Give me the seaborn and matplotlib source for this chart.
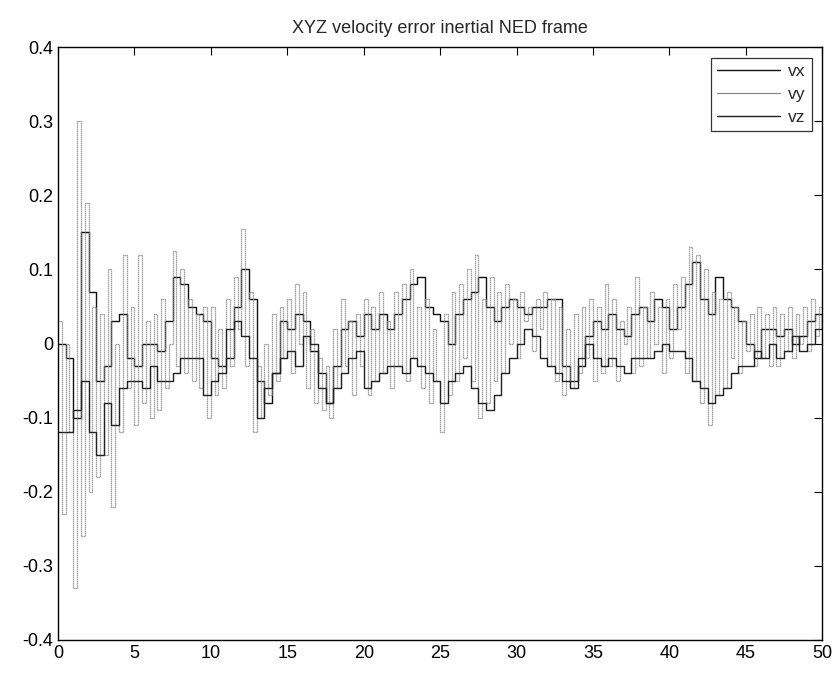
import numpy as np
import pandas as pd
import matplotlib
matplotlib.use("Agg")
import matplotlib.pyplot as plt
import seaborn as sns

# time grids
t_coarse = np.arange(0, 50.01, 0.5)
t_fine = np.arange(0, 50.01, 0.25)

vx = [0.0, -0.02, -0.10, 0.15, 0.07, -0.05, -0.03, 0.03, 0.04, -0.02,
      -0.03, 0.0, 0.0, -0.01, 0.03, 0.09, 0.08, 0.05, 0.04, 0.03,
      -0.02, -0.03, -0.02, 0.05, 0.10, 0.06, -0.05, -0.08, -0.04, 0.03,
      0.02, 0.04, 0.03, -0.01, -0.04, -0.08, -0.03, 0.02, 0.03, 0.01,
      0.04, 0.02, 0.04, 0.02, 0.04, 0.06, 0.08, 0.09, 0.05, 0.04,
      0.03, 0.0, 0.04, 0.06, 0.07, 0.09, 0.05, 0.03, 0.05, 0.06,
      0.05, 0.04, 0.05, 0.05, 0.06, 0.06, -0.03, -0.05, -0.03, 0.01,
      0.03, 0.02, 0.04, 0.02, 0.01, 0.04, 0.05, 0.03, 0.06, 0.05,
      0.02, 0.05, 0.08, 0.11, 0.06, 0.04, 0.09, 0.06, 0.05, 0.03,
      0.0, -0.02, 0.02, 0.02, 0.01, 0.02, 0.0, 0.01, 0.03, 0.04,
      0.03]

vz = [-0.12, -0.12, -0.09, -0.05, -0.12, -0.15, -0.08, -0.11, -0.06, -0.05,
      -0.05, -0.06, -0.03, -0.05, -0.05, -0.04, -0.02, -0.02, -0.02, -0.07,
      -0.05, -0.04, 0.02, 0.03, 0.01, -0.02, -0.10, -0.06, -0.04, -0.02,
      -0.01, -0.03, 0.01, 0.0, -0.06, -0.08, -0.06, -0.04, -0.02, -0.01,
      -0.06, -0.05, -0.04, -0.03, -0.03, -0.04, -0.02, -0.03, -0.04, -0.05,
      -0.08, -0.05, -0.04, -0.03, -0.06, -0.08, -0.09, -0.07, -0.04, -0.02,
      0.0, 0.02, 0.01, -0.02, -0.03, -0.04, -0.05, -0.06, -0.02, 0.0,
      -0.02, -0.03, -0.02, -0.03, -0.04, -0.02, -0.02, -0.02, -0.01, 0.0,
      -0.01, -0.01, -0.02, -0.05, -0.06, -0.08, -0.07, -0.06, -0.04, -0.03,
      -0.03, -0.01, -0.02, 0.0, -0.02, -0.01, 0.01, -0.01, 0.0, 0.02,
      0.03]

vy = [0.03, -0.23, 0.0, -0.12, -0.33, 0.30, -0.26, 0.19, -0.20, 0.05,
      -0.18, 0.04, -0.15, 0.10, -0.22, 0.0, -0.12, 0.12, -0.06, 0.05,
      -0.11, 0.12, -0.08, 0.03, -0.10, 0.04, -0.09, 0.06, -0.06, 0.0,
      0.125, -0.03, 0.10, -0.04, 0.06, -0.05, 0.04, -0.06, 0.05, -0.10,
      0.05, -0.07, 0.02, -0.06, 0.06, -0.03, 0.09, 0.02, 0.155, -0.03,
      0.07, -0.12, -0.03, -0.10, 0.0, -0.07, 0.04, -0.05, 0.05, -0.02,
      0.06, -0.04, 0.08, 0.0, 0.07, -0.06, 0.02, -0.08, -0.02, -0.09,
      -0.03, -0.10, 0.02, -0.06, 0.06, -0.03, 0.03, -0.07, 0.04, -0.03,
      0.06, -0.07, 0.05, -0.05, 0.07, -0.04, 0.03, -0.06, 0.07, -0.03,
      0.08, -0.05, 0.10, -0.02, 0.05, -0.06, 0.06, -0.08, 0.02, -0.05,
      -0.12, 0.04, -0.07, 0.07, -0.05, 0.08, -0.02, 0.10, -0.05, 0.12,
      -0.10, 0.06, -0.08, 0.09, -0.05, 0.07, -0.04, 0.08, 0.0, 0.06,
      -0.02, 0.07, 0.03, 0.05, -0.01, 0.06, 0.02, 0.07, -0.03, 0.06,
      -0.05, 0.05, -0.07, 0.02, -0.06, 0.04, -0.04, 0.05, -0.02, 0.06,
      -0.05, 0.05, -0.04, 0.08, -0.03, 0.06, -0.05, 0.03, 0.0, 0.05,
      -0.04, 0.09, -0.03, 0.05, -0.02, 0.07, 0.0, 0.05, -0.04, 0.06,
      -0.02, 0.08, 0.02, 0.09, -0.04, 0.13, -0.05, 0.12, -0.08, 0.10,
      -0.11, 0.07, -0.07, 0.06, -0.06, 0.07, -0.02, 0.05, -0.04, 0.03,
      -0.01, 0.04, -0.03, 0.05, -0.02, 0.04, -0.03, 0.05, -0.03, 0.04,
      -0.01, 0.05, -0.02, 0.04, 0.0, 0.05, -0.01, 0.06, 0.01, 0.05,
      0.04]

x_ticks = [0, 5, 10, 15, 20, 25, 30, 35, 40, 45, 50]
y_ticks = [-0.4, -0.3, -0.2, -0.1, 0, 0.1, 0.2, 0.3, 0.4]
y_ticklabels = ["-0.4", "-0.3", "-0.2", "-0.1", "0", "0.1", "0.2", "0.3", "0.4"]

sns.set_style("white")
plt.rcParams['font.family'] = ['Liberation Sans', 'DejaVu Sans']

fig = plt.figure(figsize=(8.4, 6.75), dpi=100)
ax = fig.add_axes([0.069, 0.052, 0.910, 0.878])

df_x = pd.DataFrame({"t": t_coarse, "v": vx})
df_y = pd.DataFrame({"t": t_fine, "v": vy})
df_z = pd.DataFrame({"t": t_coarse, "v": vz})

sns.lineplot(data=df_x, x="t", y="v", ax=ax, color="#111111", lw=1.0,
             drawstyle="steps-post", label="vx")
sns.lineplot(data=df_y, x="t", y="v", ax=ax, color="#8a8a8a", lw=0.9,
             drawstyle="steps-post", label="vy", linestyle=(0, (1, 0.6)))
sns.lineplot(data=df_z, x="t", y="v", ax=ax, color="#222222", lw=1.0,
             drawstyle="steps-post", label="vz")

ax.set_xlim(0, 50)
ax.set_ylim(-0.4, 0.4)
ax.set_xticks(x_ticks)
ax.set_xticklabels([str(v) for v in x_ticks])
ax.set_yticks(y_ticks)
ax.set_yticklabels(y_ticklabels)
ax.set_xlabel("")
ax.set_ylabel("")
ax.tick_params(direction="in", top=True, right=True, length=6, width=0.8,
               labelsize=13, colors="black")
for s in ax.spines.values():
    s.set_visible(True)
    s.set_color("black")
    s.set_linewidth(1.0)

ax.set_title("XYZ velocity error inertial NED frame", fontsize=13, pad=10)

leg = ax.legend(loc="upper right", fontsize=12.5, frameon=True, fancybox=False,
                edgecolor="black", handlelength=3.6, borderaxespad=0.6,
                labelspacing=0.45, handletextpad=0.5, borderpad=0.35)
leg.get_frame().set_linewidth(0.9)
leg.get_lines()[1].set_linestyle("-")

fig.savefig("out.png", dpi=100, facecolor="white")
